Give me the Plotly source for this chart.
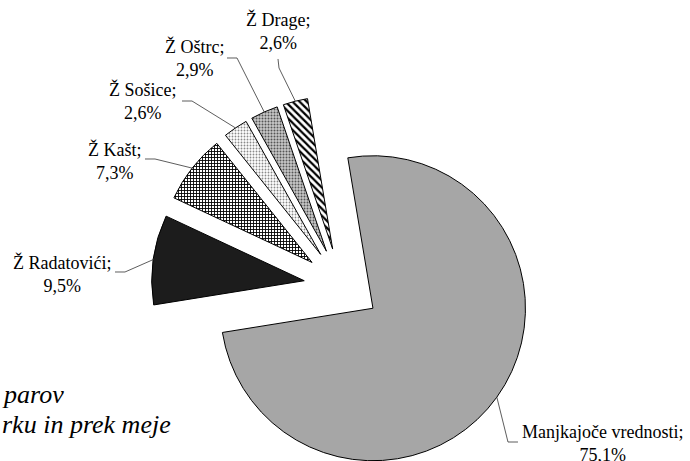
import math
import plotly.graph_objects as go

# ---- data ----
labels = ["Manjkajoče vrednosti", "Ž Radatovići", "Ž Kašt", "Ž Sošice", "Ž Oštrc", "Ž Drage"]
shares = [75.1, 9.5, 7.3, 2.6, 2.9, 2.6]
caption_lines = ["parov", "rku in prek meje"]

# ---- styles ----
W, H = 690, 461
CX, CY = 342.0, 286.0      # pie centre (px)
R = 152.5                  # radius (px)
PULL = 0.25                # explode distance as fraction of radius
ROT = -9.5                 # start angle of first slice (deg, clockwise from 12 o'clock)
FONT = "Liberation Serif, Times New Roman, serif"

slice_styles = [
    dict(color="#a6a6a6", shape="", fg="#000000", bg="#a6a6a6", size=6, sol=0.3),
    dict(color="#1c1c1c", shape="", fg="#000000", bg="#1c1c1c", size=6, sol=0.3),
    dict(color="#ffffff", shape="+", fg="#000000", bg="#ffffff", size=3, sol=0.5),
    dict(color="#ffffff", shape=".", fg="#8a8a8a", bg="#ffffff", size=3, sol=0.3),
    dict(color="#bdbdbd", shape=".", fg="#555555", bg="#c8c8c8", size=3, sol=0.35),
    dict(color="#ffffff", shape="\\", fg="#000000", bg="#ffffff", size=5, sol=0.45),
]

label_pos = [(602, 443), (62, 273.5), (115, 160.5), (143, 101.5), (194, 58.5), (278, 31)]
leader_tail = [
    [(508, 442), (518, 442)],
    [(125, 272), (115, 272)],
    [(155, 159), (145, 159)],
    [(192, 101), (182, 101)],
    [(237, 58), (227, 58)],
    [(279, 68), (278, 59)],
]


def px(x):
    return x / W


def py(y):
    return 1 - y / H


fig = go.Figure()
total = sum(shares)
cum = 0.0
shapes = []
annotations = []
TRANSP = "rgba(0,0,0,0)"
for i, v in enumerate(shares):
    a0 = ROT + 360.0 * cum / total
    a1 = a0 + 360.0 * v / total
    cum += v
    mid = math.radians((a0 + a1) / 2)
    ux, uy = math.sin(mid), -math.cos(mid)
    sx, sy = CX + R * PULL * ux, CY + R * PULL * uy
    dom_x = [max(0.0, px(sx - R)), min(1.0, px(sx + R))]
    dom_y = [max(0.0, py(sy + R)), min(1.0, py(sy - R))]

    st = slice_styles[i]
    n = len(shares)
    colors = [st["color"] if j == i else TRANSP for j in range(n)]
    lw = [1 if j == i else 0 for j in range(n)]
    pshape = [st["shape"] if j == i else "" for j in range(n)]
    fig.add_trace(go.Pie(
        labels=labels,
        values=shares,
        sort=False,
        direction="clockwise",
        rotation=ROT,
        domain=dict(x=dom_x, y=dom_y),
        marker=dict(
            colors=colors,
            line=dict(color="#000000", width=lw),
            pattern=dict(
                shape=pshape,
                fgcolor=st["fg"],
                bgcolor=st["bg"],
                size=st["size"],
                solidity=st["sol"],
                fillmode="replace",
            ),
        ),
        textinfo="none",
        hoverinfo="skip",
        showlegend=False,
    ))

    # leader line: from the outer arc midpoint of the exploded slice to the label
    ex, ey = CX + R * (1 + PULL) * ux, CY + R * (1 + PULL) * uy
    pts = [(ex, ey)] + leader_tail[i]
    path = "M " + " L ".join(f"{px(x):.5f},{py(y):.5f}" for x, y in pts)
    shapes.append(dict(type="path", xref="paper", yref="paper", path=path,
                       line=dict(color="#333333", width=0.8)))

    pct = f"{v:.1f}".replace(".", ",") + "%"
    lx, ly = label_pos[i]
    annotations.append(dict(
        x=px(lx), y=py(ly), xref="paper", yref="paper",
        text=f"{labels[i]};<br>{pct}", showarrow=False,
        xanchor="center", yanchor="middle", align="center",
        font=dict(family=FONT, size=18, color="#000000"),
    ))

cap_y = [394, 424]
for line, y in zip(caption_lines, cap_y):
    annotations.append(dict(
        x=px(0), y=py(y), xref="paper", yref="paper",
        text=f"<i>{line}</i>", showarrow=False,
        xanchor="left", yanchor="middle",
        font=dict(family=FONT, size=26, color="#000000"),
    ))

fig.update_layout(
    width=W, height=H,
    margin=dict(l=0, r=0, t=0, b=0),
    paper_bgcolor="#ffffff",
    plot_bgcolor="#ffffff",
    shapes=shapes,
    annotations=annotations,
    font=dict(family=FONT),
)

fig.write_html(
    "out.html",
    config={"displayModeBar": False},
    post_script="document.body.style.margin='0';document.body.style.overflow='hidden';",
)
